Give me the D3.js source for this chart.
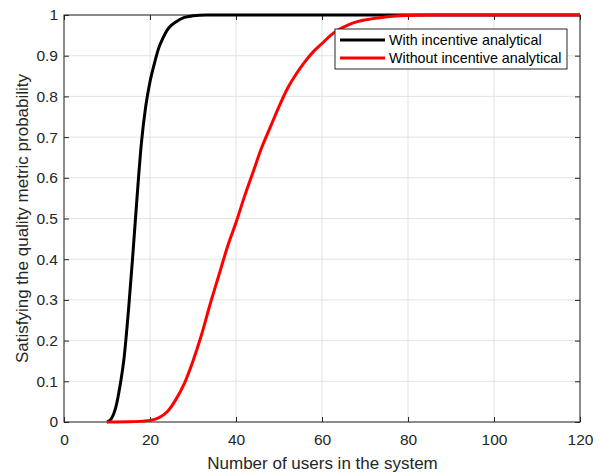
<!DOCTYPE html>
<html>
<head>
<meta charset="utf-8">
<script src="https://cdn.jsdelivr.net/npm/d3@7"></script>
<style>
  body { margin: 0; background: #fff; }
  svg { display: block; font-family: "Liberation Sans", Arial, sans-serif; }
</style>
</head>
<body>
<div id="chart"></div>
<script>
// Data
const withUsers = [10, 11, 12, 13, 14, 15, 16, 17, 18, 19, 20, 21, 22, 23, 24, 25, 26, 28, 30, 33, 120];
const withProb  = [0, 0.008, 0.034, 0.087, 0.16, 0.275, 0.41, 0.554, 0.685, 0.775, 0.836, 0.88, 0.918, 0.943, 0.963, 0.975, 0.983, 0.994, 0.998, 1, 1];

const withoutUsers = [10, 15, 20, 22, 24, 26, 28, 30, 32, 34, 36, 38, 40, 42, 44, 46, 48, 50, 52, 54, 56, 58, 60, 62, 64, 66, 68, 70, 74, 78, 85, 120];
const withoutProb  = [0, 0.0005, 0.004, 0.01, 0.025, 0.055, 0.095, 0.15, 0.215, 0.29, 0.36, 0.43, 0.49, 0.555, 0.615, 0.675, 0.725, 0.775, 0.82, 0.855, 0.885, 0.91, 0.93, 0.95, 0.965, 0.975, 0.983, 0.988, 0.994, 0.998, 1, 1];

const xTicks = [0, 20, 40, 60, 80, 100, 120];
const yTicks = [0, 0.1, 0.2, 0.3, 0.4, 0.5, 0.6, 0.7, 0.8, 0.9, 1];

const seriesNames = ["With incentive analytical", "Without incentive analytical"];
const seriesColors = ["#000000", "#ff0000"];

// Layout
const W = 599, H = 472;
const margin = {left: 64, top: 15, right: 19, bottom: 50};
const iw = W - margin.left - margin.right;
const ih = H - margin.top - margin.bottom;

const svg = d3.select("#chart").append("svg").attr("width", W).attr("height", H);
const g = svg.append("g").attr("transform", `translate(${margin.left},${margin.top})`);

const x = d3.scaleLinear().domain([0, 120]).range([0, iw]);
const y = d3.scaleLinear().domain([0, 1]).range([ih, 0]);

// grid
g.append("g").selectAll("line").data(xTicks).enter().append("line")
  .attr("x1", d => x(d)).attr("x2", d => x(d)).attr("y1", 0).attr("y2", ih)
  .attr("stroke", "#e3e3e3").attr("stroke-width", 1);
g.append("g").selectAll("line").data(yTicks).enter().append("line")
  .attr("y1", d => y(d)).attr("y2", d => y(d)).attr("x1", 0).attr("x2", iw)
  .attr("stroke", "#e3e3e3").attr("stroke-width", 1);

// axes (ticks inward, mirrored on top/right)
const axisColor = "#262626";
function styleAxis(sel) {
  sel.select(".domain").remove();
  sel.selectAll(".tick line").attr("stroke", axisColor);
  sel.selectAll(".tick text").attr("fill", axisColor).attr("font-size", 15.5)
    .attr("font-family", "Liberation Sans, Arial, sans-serif");
}
const fmtY = d => d3.format("~g")(d);

g.append("g").attr("transform", `translate(0,${ih})`)
  .call(d3.axisBottom(x).tickValues(xTicks).tickSize(-5).tickPadding(12))
  .call(styleAxis);
g.append("g")
  .call(d3.axisTop(x).tickValues(xTicks).tickSize(-5).tickFormat(""))
  .call(styleAxis);
g.append("g")
  .call(d3.axisLeft(y).tickValues(yTicks).tickSize(-5).tickPadding(6).tickFormat(fmtY))
  .call(styleAxis);
g.append("g").attr("transform", `translate(${iw},0)`)
  .call(d3.axisRight(y).tickValues(yTicks).tickSize(-5).tickFormat(""))
  .call(styleAxis);

// box
g.append("rect").attr("width", iw).attr("height", ih)
  .attr("fill", "none").attr("stroke", axisColor).attr("stroke-width", 1);

// curves
const line = d3.line().x(d => x(d[0])).y(d => y(d[1])).curve(d3.curveMonotoneX);
const series = [
  d3.zip(withUsers, withProb),
  d3.zip(withoutUsers, withoutProb)
];
series.forEach((s, i) => {
  g.append("path").datum(s).attr("d", line)
    .attr("fill", "none").attr("stroke", seriesColors[i]).attr("stroke-width", 3)
    .attr("stroke-linejoin", "round");
});

// axis labels
svg.append("text").attr("x", margin.left + iw / 2 + 0.5).attr("y", 469)
  .attr("text-anchor", "middle").attr("font-size", 17).attr("fill", axisColor)
  .text("Number of users in the system");
svg.append("text")
  .attr("transform", `translate(28,${margin.top + ih / 2}) rotate(-90)`)
  .attr("text-anchor", "middle").attr("font-size", 17).attr("fill", axisColor)
  .text("Satisfying the quality metric probability");

// legend
const lg = svg.append("g").attr("transform", "translate(335,29)");
lg.append("rect").attr("width", 232).attr("height", 40)
  .attr("fill", "#fff").attr("stroke", axisColor).attr("stroke-width", 1);
seriesNames.forEach((name, i) => {
  const ly = 11 + i * 18;
  lg.append("line").attr("x1", 5).attr("x2", 50).attr("y1", ly).attr("y2", ly)
    .attr("stroke", seriesColors[i]).attr("stroke-width", 3);
  lg.append("text").attr("x", 54).attr("y", ly + 5)
    .attr("font-size", 14.3).attr("fill", "#000").text(name);
});
</script>
</body>
</html>
